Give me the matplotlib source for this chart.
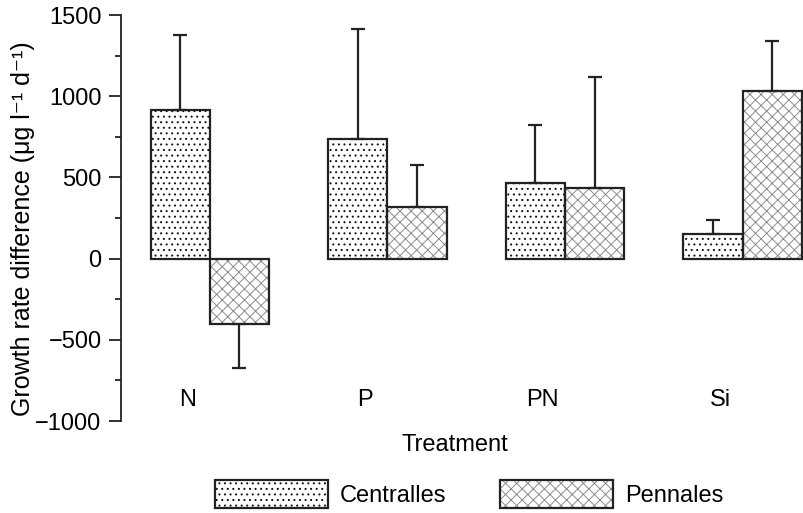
import matplotlib.pyplot as plt
import numpy as np
from matplotlib.patches import Patch
from matplotlib.legend_handler import HandlerTuple
from matplotlib.ticker import MultipleLocator

plt.rcParams['font.family'] = ['Liberation Sans', 'DejaVu Sans']
plt.rcParams['hatch.linewidth'] = 0.7

treatments = ["N", "P", "PN", "Si"]
centralles = [916, 738, 463, 154]
centralles_err = [462, 677, 359, 86]
pennales = [-400, 320, 432, 1033]
pennales_err = [276, 258, 685, 304]

edge = "#222222"
width = 0.333
fs = 17

fig = plt.figure(figsize=(8.04, 5.13), dpi=100)
ax = fig.add_axes([121 / 804, 1 - 421 / 513, 682 / 804, 406 / 513])

x = np.arange(len(treatments))


def signed_err(vals, errs):
    lo = [e if v < 0 else 0 for v, e in zip(vals, errs)]
    hi = [e if v >= 0 else 0 for v, e in zip(vals, errs)]
    return [lo, hi]


# hatched fills first, then outlines on top
ax.bar(x - width / 2, centralles, width, color="white", hatch="...",
       edgecolor="#111111", linewidth=0)
ax.bar(x + width / 2, pennales, width, color="white", hatch="xxx",
       edgecolor="#8c8c8c", linewidth=0)
ax.bar(x - width / 2, centralles, width, fill=False, edgecolor=edge, linewidth=1.6,
       yerr=signed_err(centralles, centralles_err),
       error_kw=dict(ecolor=edge, elinewidth=1.6, capsize=5, capthick=1.6))
ax.bar(x + width / 2, pennales, width, fill=False, edgecolor=edge, linewidth=1.6,
       yerr=signed_err(pennales, pennales_err),
       error_kw=dict(ecolor=edge, elinewidth=1.6, capsize=5, capthick=1.6))

for i, t in enumerate(treatments):
    ax.text(i - 0.125, -870, t, ha="center", va="center", fontsize=fs)

ax.set_xlim(-0.5, 3.34)
ax.set_ylim(-1000, 1500)
ax.yaxis.set_major_locator(MultipleLocator(500))
ax.yaxis.set_minor_locator(MultipleLocator(250))
ax.tick_params(axis="y", which="major", length=9, width=1.3, labelsize=fs, color=edge,
               pad=5)
ax.tick_params(axis="y", which="minor", length=4.5, width=1.3, color=edge)
ax.set_xticks([])
for s in ["top", "right", "bottom"]:
    ax.spines[s].set_visible(False)
ax.spines["left"].set_linewidth(1.3)
ax.spines["left"].set_color(edge)

fig.text(23 / 804, 1 - 229 / 513, "Growth rate difference (μg l⁻¹ d⁻¹)", rotation=90,
         ha="center", va="center", fontsize=18)
ax.text(0.49, -0.059, "Treatment", transform=ax.transAxes, ha="center", va="center",
        fontsize=fs)

h_c = (Patch(facecolor="white", hatch="...", edgecolor="#111111", linewidth=0),
       Patch(fill=False, edgecolor=edge, linewidth=1.6))
h_p = (Patch(facecolor="white", hatch="xxx", edgecolor="#8c8c8c", linewidth=0),
       Patch(fill=False, edgecolor=edge, linewidth=1.6))
fig.legend([h_c, h_p], ["Centralles", "Pennales"],
           handler_map={tuple: HandlerTuple(ndivide=1, pad=0)},
           loc="center left", bbox_to_anchor=(215 / 804, 1 - 494 / 513), ncol=2,
           frameon=False, borderpad=0, borderaxespad=0,
           fontsize=fs, handlelength=4.8, handleheight=1.5, handletextpad=0.5,
           columnspacing=2.25)

plt.savefig("out.png", dpi=100)
